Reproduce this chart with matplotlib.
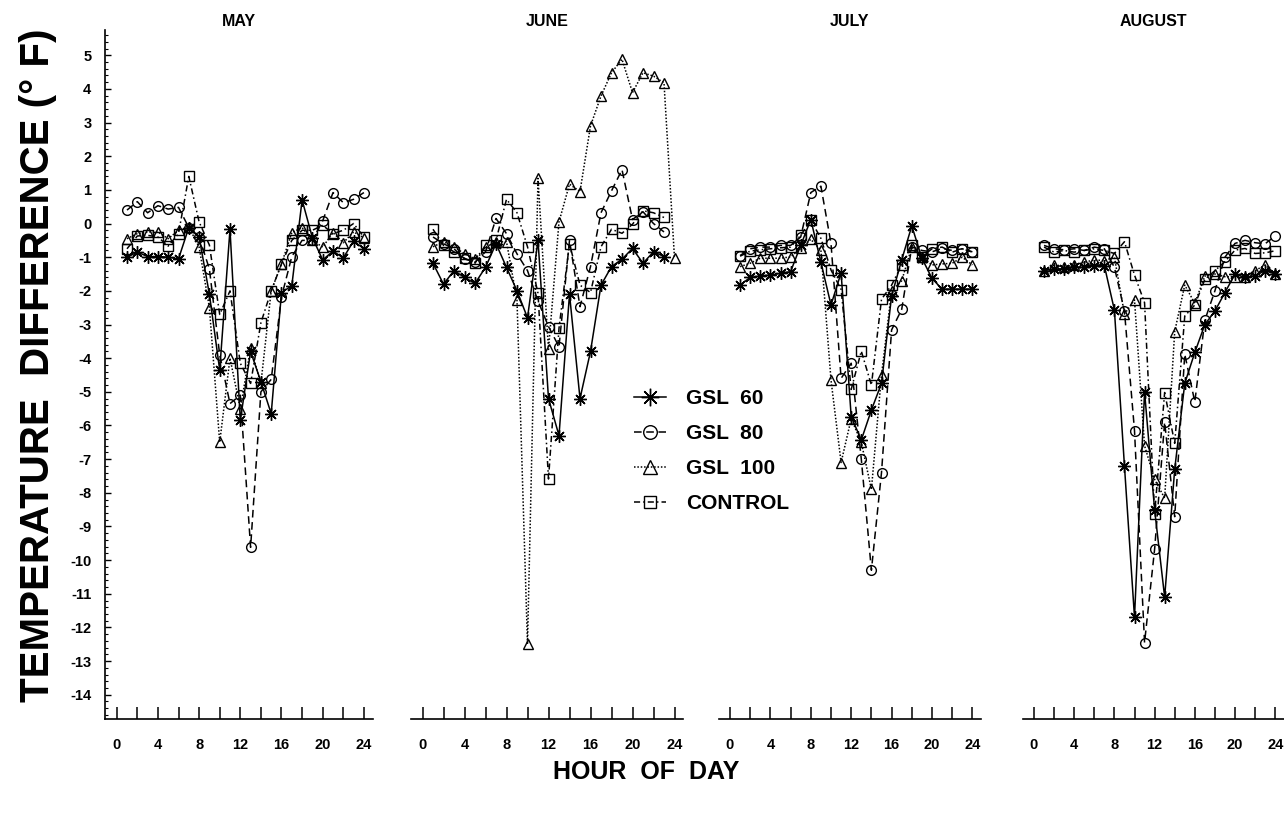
import numpy as np
import matplotlib
matplotlib.use("Agg")
import matplotlib.pyplot as plt
from matplotlib.ticker import MultipleLocator

plt.rcParams['font.family'] = ['Liberation Sans', 'DejaVu Sans']
plt.rcParams['font.weight'] = 'bold'

nan = np.nan

# ---------------- data ----------------
hours = list(range(1, 25))
months = ["MAY", "JUNE", "JULY", "AUGUST"]
series_names = ["GSL  60", "GSL  80", "GSL  100", "CONTROL"]

may_gsl60 = [-1.0, -0.85, -0.98, -0.98, -1.0, -1.05, -0.12, -0.4, -2.1, -4.35, -0.17, -5.85,
             -3.8, -4.7, -5.65, -2.05, -1.85, 0.7, -0.42, -1.08, -0.82, -1.02, -0.52, -0.75]
may_gsl80 = [0.40, 0.65, 0.32, 0.53, 0.43, 0.48, -0.12, -0.4, -1.35, -3.9, -5.35, -5.1,
             -9.62, -5.0, -4.63, -2.18, -0.98, -0.5, -0.5, 0.08, 0.92, 0.62, 0.72, 0.92]
may_gsl100 = [-0.45, -0.3, -0.25, -0.25, -0.45, -0.2, -0.1, -0.7, -2.5, -6.5, -4.0, -5.5,
              -3.7, -4.75, -2.0, -1.2, -0.27, -0.12, -0.5, -0.7, -0.27, -0.57, -0.25, -0.42]
may_control = [-0.75, -0.37, -0.35, -0.4, -0.67, -0.3, 1.4, 0.05, -0.64, -2.7, -2.0, -4.15,
               -4.75, -2.95, -2.0, -1.2, -0.5, -0.2, -0.2, -0.05, -0.3, -0.2, 0.0, -0.4]

jun_gsl60 = [-1.18, -1.8, -1.4, -1.6, -1.78, -1.3, -0.6, -1.3, -2.0, -2.8, -0.5, -5.2,
             -6.3, -2.1, -5.2, -3.8, -1.83, -1.28, -1.06, -0.74, -1.18, -0.84, -0.98, nan]
jun_gsl80 = [-0.4, -0.6, -0.75, -1.05, -1.15, -0.84, 0.15, -0.3, -0.9, -1.4, -2.3, -3.06,
             -3.66, -0.5, -2.47, -1.28, 0.32, 0.97, 1.6, 0.12, 0.35, 0.0, -0.25, nan]
jun_gsl100 = [-0.69, -0.54, -0.69, -0.9, -1.05, -0.7, -0.55, -0.54, -2.28, -12.5, 1.34, -3.74,
              0.05, 1.17, 0.95, 2.9, 3.79, 4.48, 4.88, 3.89, 4.48, 4.38, 4.18, -1.03]
jun_control = [-0.17, -0.65, -0.84, -1.03, -1.18, -0.64, -0.5, 0.72, 0.32, -0.69, -2.07, -7.59,
               -3.11, -0.6, -1.83, -2.05, -0.69, -0.17, -0.29, -0.02, 0.38, 0.32, 0.18, nan]

jul_gsl60 = [-1.83, -1.6, -1.56, -1.53, -1.48, -1.43, -0.65, 0.12, -1.15, -2.42, -1.46, -5.74,
             -6.43, -5.54, -4.75, -2.15, -1.08, -0.07, -1.03, -1.63, -1.95, -1.95, -1.95, -1.95]
jul_gsl80 = [-0.95, -0.75, -0.7, -0.7, -0.65, -0.65, -0.4, 0.92, 1.11, -0.59, -4.6, -4.15,
             -7.0, -10.3, -7.4, -3.16, -2.55, -0.69, -0.8, -0.84, -0.74, -0.8, -0.75, -0.84]
jul_gsl100 = [-1.28, -1.18, -1.03, -1.03, -1.03, -0.99, -0.74, -0.47, -0.79, -4.65, -7.1, -5.8,
              -6.5, -7.9, -4.5, -2.0, -1.7, -0.7, -1.0, -1.23, -1.2, -1.18, -1.0, -1.23]
jul_control = [-0.97, -0.82, -0.78, -0.75, -0.72, -0.7, -0.35, 0.1, -0.44, -1.38, -1.96, -4.93,
               -3.79, -4.8, -2.25, -1.83, -1.23, -0.64, -0.99, -0.75, -0.7, -0.85, -0.75, -0.85]

aug_gsl60 = [-1.4, -1.35, -1.35, -1.3, -1.3, -1.25, -1.25, -2.57, -7.2, -11.7, -5.0, -8.5,
             -11.1, -7.3, -4.75, -3.83, -3.0, -2.6, -2.05, -1.5, -1.6, -1.55, -1.4, -1.5]
aug_gsl80 = [-0.65, -0.75, -0.78, -0.75, -0.8, -0.7, -0.75, -1.3, -2.6, -6.15, -12.45, -9.68,
             -5.9, -8.71, -3.88, -5.3, -2.87, -2.0, -1.0, -0.59, -0.5, -0.57, -0.6, -0.37]
aug_gsl100 = [-1.4, -1.23, -1.3, -1.23, -1.15, -1.08, -1.1, -1.0, -2.69, -2.27, -6.6, -7.6,
              -8.16, -3.21, -1.83, -2.37, -1.56, -1.5, -1.58, -1.58, -1.6, -1.4, -1.23, -1.5]
aug_control = [-0.7, -0.85, -0.8, -0.85, -0.8, -0.75, -0.8, -0.89, -0.54, -1.53, -2.35, -8.63,
               -5.02, -6.53, -2.75, -2.42, -1.66, -1.4, -1.13, -0.79, -0.74, -0.89, -0.87, -0.81]

month_data = [
    [may_gsl60, may_gsl80, may_gsl100, may_control],
    [jun_gsl60, jun_gsl80, jun_gsl100, jun_control],
    [jul_gsl60, jul_gsl80, jul_gsl100, jul_control],
    [aug_gsl60, aug_gsl80, aug_gsl100, aug_control],
]

x_ticks = list(range(0, 25, 2))
x_tick_labels = ["0", "", "4", "", "8", "", "12", "", "16", "", "20", "", "24"]
y_ticks = list(range(-14, 6))
y_tick_labels = [str(v) for v in y_ticks]

# ---------------- styles / layout ----------------
styles = [
    dict(linestyle='-', marker=(8, 2, 0), markersize=9),
    dict(linestyle=(0, (5, 3)), marker='o', markersize=7),
    dict(linestyle=(0, (1, 1.2)), marker='^', markersize=7.5),
    dict(linestyle=(0, (4, 2, 1, 2)), marker='s', markersize=6.5),
]

W, H = 1284, 815
fig = plt.figure(figsize=(W / 100, H / 100), dpi=100)

panel_px = [(116.7, 10.3), (422.5, 10.5), (730.0, 10.1), (1034.0, 10.05)]
XMIN, XMAX = -1.1, 24.85
YMIN, YMAX = -14.72, 5.75
bottom_px, top_px = 719, 30

axes = []
for i, (h0, pph) in enumerate(panel_px):
    left = h0 + XMIN * pph
    width = (XMAX - XMIN) * pph
    ax = fig.add_axes([left / W, (H - bottom_px) / H, width / W, (bottom_px - top_px) / H])
    ax.set_xlim(XMIN, XMAX)
    ax.set_ylim(YMIN, YMAX)
    for j, vals in enumerate(month_data[i]):
        ax.plot(hours, vals, color='black', linewidth=1.1, markeredgewidth=1.0,
                markerfacecolor='none', markeredgecolor='black',
                label=series_names[j], **styles[j])
    for s in ['top', 'right']:
        ax.spines[s].set_visible(False)
    ax.spines['bottom'].set_linewidth(1.2)
    ax.set_xticks(x_ticks)
    ax.set_xticklabels(x_tick_labels)
    ax.tick_params(axis='x', direction='in', length=9, width=1.1, pad=14, labelsize=10.5)
    ax.set_title(months[i], fontsize=11.5, fontweight='bold', pad=3)
    if i == 0:
        ax.spines['left'].set_linewidth(1.2)
        ax.set_yticks(y_ticks)
        ax.set_yticklabels(y_tick_labels)
        ax.yaxis.set_minor_locator(MultipleLocator(0.2))
        ax.tick_params(axis='y', which='major', direction='in', length=4, width=1.0,
                       pad=10, labelsize=10.5)
        ax.tick_params(axis='y', which='minor', direction='in', length=2, width=0.8)
    else:
        ax.spines['left'].set_visible(False)
        ax.yaxis.set_visible(False)
    ax.patch.set_alpha(0)
    axes.append(ax)

fig.text(38 / W, 1 - 365 / H, 'TEMPERATURE  DIFFERENCE (° F)', rotation=90,
         ha='center', va='center', fontsize=29, fontweight='bold')
fig.text(646 / W, 1 - 772 / H, 'HOUR  OF  DAY', ha='center', va='center',
         fontsize=18, fontweight='bold')

handles, labels = axes[0].get_legend_handles_labels()
fig.legend(handles, labels, loc='upper left', bbox_to_anchor=(634 / W, 1 - 389 / H),
           frameon=False, fontsize=15, handlelength=1.55, handletextpad=0.95,
           labelspacing=0.77, borderpad=0, borderaxespad=0, markerscale=1.4)

fig.savefig('out.png', dpi=100)
